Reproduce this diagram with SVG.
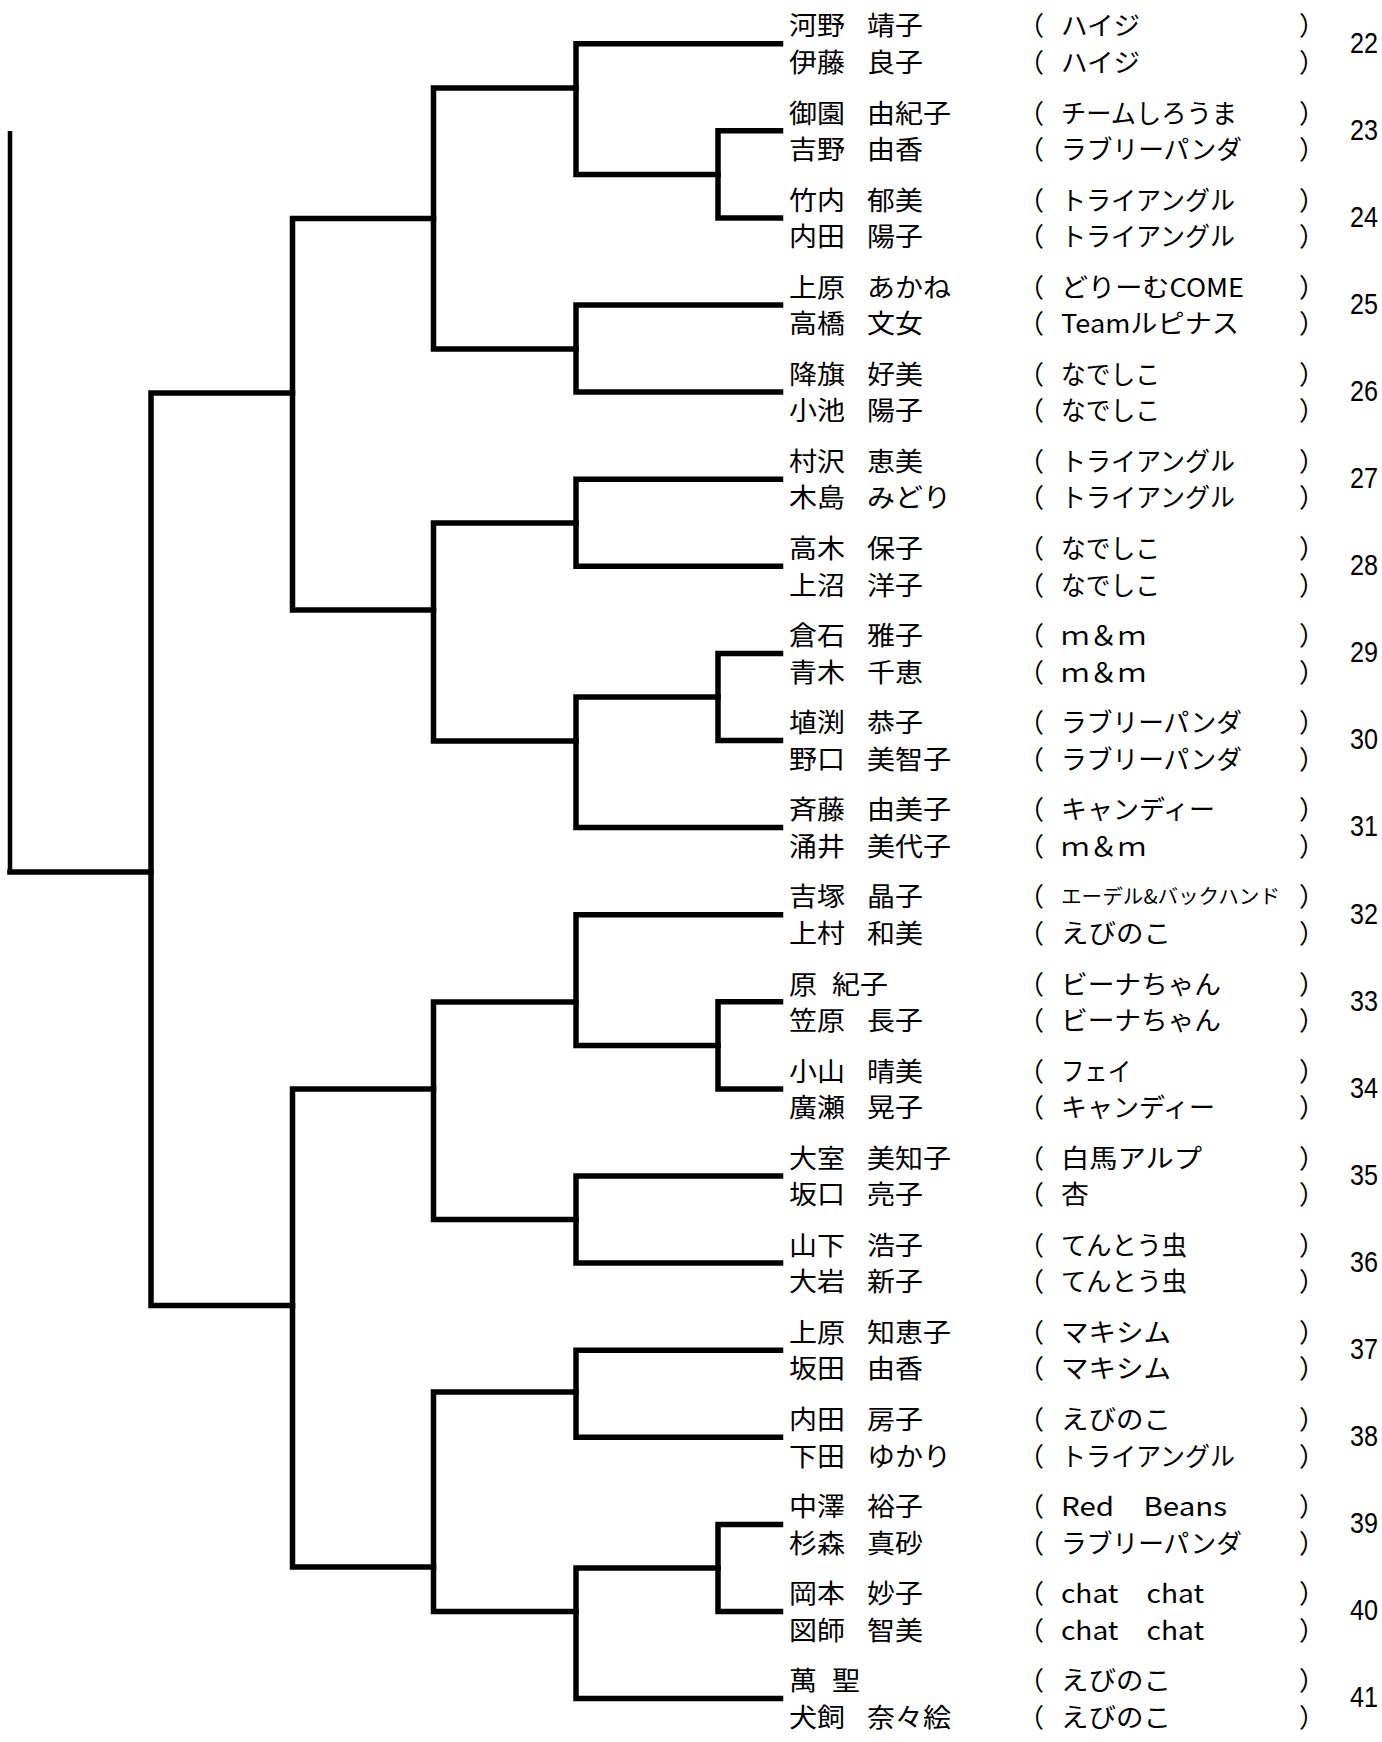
<svg xmlns="http://www.w3.org/2000/svg" width="1382" height="1742" viewBox="0 0 1382 1742">
<style>
text { font-family: "Noto Sans CJK JP", "Noto Sans", sans-serif; fill: #000; }
.n, .t, .p { font-size: 26px; }
.s { font-size: 20px; }
.num { font-family: "Liberation Sans", Arial, sans-serif; font-size: 30px; }
.ln { fill: none; stroke: #000; stroke-width: 5.5; stroke-linecap: square; stroke-linejoin: miter; }
</style>
<rect width="1382" height="1742" fill="#fff"/>
<g id="connectors">
<path d="M10 131 V874" fill="none" stroke="#000" stroke-width="4.5"/>
<path class="ln" d="M151 872 H10"/>
<path class="ln" d="M292.5 393 H151 V1305.5 H292.5"/>
<path class="ln" d="M433.5 218.5 H292.5 V610 H433.5"/>
<path class="ln" d="M433.5 1089 H292.5 V1567 H433.5"/>
<path class="ln" d="M576 88 H433.5 V349 H576"/>
<path class="ln" d="M576 523 H433.5 V741 H576"/>
<path class="ln" d="M576 1002 H433.5 V1219.5 H576"/>
<path class="ln" d="M576 1392 H433.5 V1611.5 H576"/>
<path class="ln" d="M780.5 43.7 H576 V174.4 H718"/>
<path class="ln" d="M780.5 305 H576 V392.1 H780.5"/>
<path class="ln" d="M780.5 479.2 H576 V566.3 H780.5"/>
<path class="ln" d="M718 697 H576 V827.6 H780.5"/>
<path class="ln" d="M780.5 914.7 H576 V1045.4 H718"/>
<path class="ln" d="M780.5 1176 H576 V1263.1 H780.5"/>
<path class="ln" d="M780.5 1350.2 H576 V1437.3 H780.5"/>
<path class="ln" d="M718 1568 H576 V1698.6 H780.5"/>
<path class="ln" d="M780.5 130.8 H718 V217.9 H780.5"/>
<path class="ln" d="M780.5 653.4 H718 V740.5 H780.5"/>
<path class="ln" d="M780.5 1001.8 H718 V1088.9 H780.5"/>
<path class="ln" d="M780.5 1524.4 H718 V1611.5 H780.5"/>
</g>

<g id="pair22">
<text class="n" x="789" y="35.4" textLength="56" lengthAdjust="spacingAndGlyphs">河野</text>
<text class="n" x="867" y="35.4" textLength="56" lengthAdjust="spacingAndGlyphs">靖子</text>
<text class="p" x="1018" y="35.4">（</text>
<text class="t" x="1061" y="35.4" textLength="79" lengthAdjust="spacingAndGlyphs">ハイジ</text>
<text class="p" x="1299" y="35.4">）</text>
<text class="n" x="789" y="71.9" textLength="56" lengthAdjust="spacingAndGlyphs">伊藤</text>
<text class="n" x="867" y="71.9" textLength="56" lengthAdjust="spacingAndGlyphs">良子</text>
<text class="p" x="1018" y="71.9">（</text>
<text class="t" x="1061" y="71.9" textLength="79" lengthAdjust="spacingAndGlyphs">ハイジ</text>
<text class="p" x="1299" y="71.9">）</text>
<text class="num" x="1350" y="52.5" textLength="28" lengthAdjust="spacingAndGlyphs">22</text>
</g>

<g id="pair23">
<text class="n" x="789" y="122.5" textLength="56" lengthAdjust="spacingAndGlyphs">御園</text>
<text class="n" x="867" y="122.5" textLength="84" lengthAdjust="spacingAndGlyphs">由紀子</text>
<text class="p" x="1018" y="122.5">（</text>
<text class="t" x="1061" y="122.5" textLength="176" lengthAdjust="spacingAndGlyphs">チームしろうま</text>
<text class="p" x="1299" y="122.5">）</text>
<text class="n" x="789" y="159" textLength="56" lengthAdjust="spacingAndGlyphs">吉野</text>
<text class="n" x="867" y="159" textLength="56" lengthAdjust="spacingAndGlyphs">由香</text>
<text class="p" x="1018" y="159">（</text>
<text class="t" x="1061" y="159" textLength="181" lengthAdjust="spacingAndGlyphs">ラブリーパンダ</text>
<text class="p" x="1299" y="159">）</text>
<text class="num" x="1350" y="139.6" textLength="28" lengthAdjust="spacingAndGlyphs">23</text>
</g>

<g id="pair24">
<text class="n" x="789" y="209.6" textLength="56" lengthAdjust="spacingAndGlyphs">竹内</text>
<text class="n" x="867" y="209.6" textLength="56" lengthAdjust="spacingAndGlyphs">郁美</text>
<text class="p" x="1018" y="209.6">（</text>
<text class="t" x="1061" y="209.6" textLength="174" lengthAdjust="spacingAndGlyphs">トライアングル</text>
<text class="p" x="1299" y="209.6">）</text>
<text class="n" x="789" y="246.1" textLength="56" lengthAdjust="spacingAndGlyphs">内田</text>
<text class="n" x="867" y="246.1" textLength="56" lengthAdjust="spacingAndGlyphs">陽子</text>
<text class="p" x="1018" y="246.1">（</text>
<text class="t" x="1061" y="246.1" textLength="174" lengthAdjust="spacingAndGlyphs">トライアングル</text>
<text class="p" x="1299" y="246.1">）</text>
<text class="num" x="1350" y="226.7" textLength="28" lengthAdjust="spacingAndGlyphs">24</text>
</g>

<g id="pair25">
<text class="n" x="789" y="296.7" textLength="56" lengthAdjust="spacingAndGlyphs">上原</text>
<text class="n" x="867" y="296.7" textLength="84" lengthAdjust="spacingAndGlyphs">あかね</text>
<text class="p" x="1018" y="296.7">（</text>
<text class="t" x="1061" y="296.7" textLength="183" lengthAdjust="spacingAndGlyphs">どりーむCOME</text>
<text class="p" x="1299" y="296.7">）</text>
<text class="n" x="789" y="333.2" textLength="56" lengthAdjust="spacingAndGlyphs">高橋</text>
<text class="n" x="867" y="333.2" textLength="56" lengthAdjust="spacingAndGlyphs">文女</text>
<text class="p" x="1018" y="333.2">（</text>
<text class="t" x="1061" y="333.2" textLength="178" lengthAdjust="spacingAndGlyphs">Teamルピナス</text>
<text class="p" x="1299" y="333.2">）</text>
<text class="num" x="1350" y="313.8" textLength="28" lengthAdjust="spacingAndGlyphs">25</text>
</g>

<g id="pair26">
<text class="n" x="789" y="383.8" textLength="56" lengthAdjust="spacingAndGlyphs">降旗</text>
<text class="n" x="867" y="383.8" textLength="56" lengthAdjust="spacingAndGlyphs">好美</text>
<text class="p" x="1018" y="383.8">（</text>
<text class="t" x="1061" y="383.8" textLength="99" lengthAdjust="spacingAndGlyphs">なでしこ</text>
<text class="p" x="1299" y="383.8">）</text>
<text class="n" x="789" y="420.3" textLength="56" lengthAdjust="spacingAndGlyphs">小池</text>
<text class="n" x="867" y="420.3" textLength="56" lengthAdjust="spacingAndGlyphs">陽子</text>
<text class="p" x="1018" y="420.3">（</text>
<text class="t" x="1061" y="420.3" textLength="99" lengthAdjust="spacingAndGlyphs">なでしこ</text>
<text class="p" x="1299" y="420.3">）</text>
<text class="num" x="1350" y="400.9" textLength="28" lengthAdjust="spacingAndGlyphs">26</text>
</g>

<g id="pair27">
<text class="n" x="789" y="470.9" textLength="56" lengthAdjust="spacingAndGlyphs">村沢</text>
<text class="n" x="867" y="470.9" textLength="56" lengthAdjust="spacingAndGlyphs">恵美</text>
<text class="p" x="1018" y="470.9">（</text>
<text class="t" x="1061" y="470.9" textLength="174" lengthAdjust="spacingAndGlyphs">トライアングル</text>
<text class="p" x="1299" y="470.9">）</text>
<text class="n" x="789" y="507.4" textLength="56" lengthAdjust="spacingAndGlyphs">木島</text>
<text class="n" x="867" y="507.4" textLength="84" lengthAdjust="spacingAndGlyphs">みどり</text>
<text class="p" x="1018" y="507.4">（</text>
<text class="t" x="1061" y="507.4" textLength="174" lengthAdjust="spacingAndGlyphs">トライアングル</text>
<text class="p" x="1299" y="507.4">）</text>
<text class="num" x="1350" y="488" textLength="28" lengthAdjust="spacingAndGlyphs">27</text>
</g>

<g id="pair28">
<text class="n" x="789" y="558" textLength="56" lengthAdjust="spacingAndGlyphs">高木</text>
<text class="n" x="867" y="558" textLength="56" lengthAdjust="spacingAndGlyphs">保子</text>
<text class="p" x="1018" y="558">（</text>
<text class="t" x="1061" y="558" textLength="99" lengthAdjust="spacingAndGlyphs">なでしこ</text>
<text class="p" x="1299" y="558">）</text>
<text class="n" x="789" y="594.5" textLength="56" lengthAdjust="spacingAndGlyphs">上沼</text>
<text class="n" x="867" y="594.5" textLength="56" lengthAdjust="spacingAndGlyphs">洋子</text>
<text class="p" x="1018" y="594.5">（</text>
<text class="t" x="1061" y="594.5" textLength="99" lengthAdjust="spacingAndGlyphs">なでしこ</text>
<text class="p" x="1299" y="594.5">）</text>
<text class="num" x="1350" y="575.1" textLength="28" lengthAdjust="spacingAndGlyphs">28</text>
</g>

<g id="pair29">
<text class="n" x="789" y="645.1" textLength="56" lengthAdjust="spacingAndGlyphs">倉石</text>
<text class="n" x="867" y="645.1" textLength="56" lengthAdjust="spacingAndGlyphs">雅子</text>
<text class="p" x="1018" y="645.1">（</text>
<text class="t" x="1061" y="645.1" textLength="85" lengthAdjust="spacingAndGlyphs">ｍ＆ｍ</text>
<text class="p" x="1299" y="645.1">）</text>
<text class="n" x="789" y="681.6" textLength="56" lengthAdjust="spacingAndGlyphs">青木</text>
<text class="n" x="867" y="681.6" textLength="56" lengthAdjust="spacingAndGlyphs">千恵</text>
<text class="p" x="1018" y="681.6">（</text>
<text class="t" x="1061" y="681.6" textLength="85" lengthAdjust="spacingAndGlyphs">ｍ＆ｍ</text>
<text class="p" x="1299" y="681.6">）</text>
<text class="num" x="1350" y="662.2" textLength="28" lengthAdjust="spacingAndGlyphs">29</text>
</g>

<g id="pair30">
<text class="n" x="789" y="732.2" textLength="56" lengthAdjust="spacingAndGlyphs">埴渕</text>
<text class="n" x="867" y="732.2" textLength="56" lengthAdjust="spacingAndGlyphs">恭子</text>
<text class="p" x="1018" y="732.2">（</text>
<text class="t" x="1061" y="732.2" textLength="181" lengthAdjust="spacingAndGlyphs">ラブリーパンダ</text>
<text class="p" x="1299" y="732.2">）</text>
<text class="n" x="789" y="768.7" textLength="56" lengthAdjust="spacingAndGlyphs">野口</text>
<text class="n" x="867" y="768.7" textLength="84" lengthAdjust="spacingAndGlyphs">美智子</text>
<text class="p" x="1018" y="768.7">（</text>
<text class="t" x="1061" y="768.7" textLength="181" lengthAdjust="spacingAndGlyphs">ラブリーパンダ</text>
<text class="p" x="1299" y="768.7">）</text>
<text class="num" x="1350" y="749.3" textLength="28" lengthAdjust="spacingAndGlyphs">30</text>
</g>

<g id="pair31">
<text class="n" x="789" y="819.3" textLength="56" lengthAdjust="spacingAndGlyphs">斉藤</text>
<text class="n" x="867" y="819.3" textLength="84" lengthAdjust="spacingAndGlyphs">由美子</text>
<text class="p" x="1018" y="819.3">（</text>
<text class="t" x="1061" y="819.3" textLength="154" lengthAdjust="spacingAndGlyphs">キャンディー</text>
<text class="p" x="1299" y="819.3">）</text>
<text class="n" x="789" y="855.8" textLength="56" lengthAdjust="spacingAndGlyphs">涌井</text>
<text class="n" x="867" y="855.8" textLength="84" lengthAdjust="spacingAndGlyphs">美代子</text>
<text class="p" x="1018" y="855.8">（</text>
<text class="t" x="1061" y="855.8" textLength="85" lengthAdjust="spacingAndGlyphs">ｍ＆ｍ</text>
<text class="p" x="1299" y="855.8">）</text>
<text class="num" x="1350" y="836.4" textLength="28" lengthAdjust="spacingAndGlyphs">31</text>
</g>

<g id="pair32">
<text class="n" x="789" y="906.4" textLength="56" lengthAdjust="spacingAndGlyphs">吉塚</text>
<text class="n" x="867" y="906.4" textLength="56" lengthAdjust="spacingAndGlyphs">晶子</text>
<text class="p" x="1018" y="906.4">（</text>
<text class="t s" x="1061" y="904" textLength="219" lengthAdjust="spacingAndGlyphs">エーデル&amp;バックハンド</text>
<text class="p" x="1299" y="906.4">）</text>
<text class="n" x="789" y="942.9" textLength="56" lengthAdjust="spacingAndGlyphs">上村</text>
<text class="n" x="867" y="942.9" textLength="56" lengthAdjust="spacingAndGlyphs">和美</text>
<text class="p" x="1018" y="942.9">（</text>
<text class="t" x="1061" y="942.9" textLength="110" lengthAdjust="spacingAndGlyphs">えびのこ</text>
<text class="p" x="1299" y="942.9">）</text>
<text class="num" x="1350" y="923.5" textLength="28" lengthAdjust="spacingAndGlyphs">32</text>
</g>

<g id="pair33">
<text class="n" x="789" y="993.5" textLength="28" lengthAdjust="spacingAndGlyphs">原</text>
<text class="n" x="832" y="993.5" textLength="56" lengthAdjust="spacingAndGlyphs">紀子</text>
<text class="p" x="1018" y="993.5">（</text>
<text class="t" x="1061" y="993.5" textLength="160" lengthAdjust="spacingAndGlyphs">ビーナちゃん</text>
<text class="p" x="1299" y="993.5">）</text>
<text class="n" x="789" y="1030" textLength="56" lengthAdjust="spacingAndGlyphs">笠原</text>
<text class="n" x="867" y="1030" textLength="56" lengthAdjust="spacingAndGlyphs">長子</text>
<text class="p" x="1018" y="1030">（</text>
<text class="t" x="1061" y="1030" textLength="160" lengthAdjust="spacingAndGlyphs">ビーナちゃん</text>
<text class="p" x="1299" y="1030">）</text>
<text class="num" x="1350" y="1010.6" textLength="28" lengthAdjust="spacingAndGlyphs">33</text>
</g>

<g id="pair34">
<text class="n" x="789" y="1080.6" textLength="56" lengthAdjust="spacingAndGlyphs">小山</text>
<text class="n" x="867" y="1080.6" textLength="56" lengthAdjust="spacingAndGlyphs">晴美</text>
<text class="p" x="1018" y="1080.6">（</text>
<text class="t" x="1061" y="1080.6" textLength="70" lengthAdjust="spacingAndGlyphs">フェイ</text>
<text class="p" x="1299" y="1080.6">）</text>
<text class="n" x="789" y="1117.1" textLength="56" lengthAdjust="spacingAndGlyphs">廣瀬</text>
<text class="n" x="867" y="1117.1" textLength="56" lengthAdjust="spacingAndGlyphs">晃子</text>
<text class="p" x="1018" y="1117.1">（</text>
<text class="t" x="1061" y="1117.1" textLength="154" lengthAdjust="spacingAndGlyphs">キャンディー</text>
<text class="p" x="1299" y="1117.1">）</text>
<text class="num" x="1350" y="1097.7" textLength="28" lengthAdjust="spacingAndGlyphs">34</text>
</g>

<g id="pair35">
<text class="n" x="789" y="1167.7" textLength="56" lengthAdjust="spacingAndGlyphs">大室</text>
<text class="n" x="867" y="1167.7" textLength="84" lengthAdjust="spacingAndGlyphs">美知子</text>
<text class="p" x="1018" y="1167.7">（</text>
<text class="t" x="1061" y="1167.7" textLength="141" lengthAdjust="spacingAndGlyphs">白馬アルプ</text>
<text class="p" x="1299" y="1167.7">）</text>
<text class="n" x="789" y="1204.2" textLength="56" lengthAdjust="spacingAndGlyphs">坂口</text>
<text class="n" x="867" y="1204.2" textLength="56" lengthAdjust="spacingAndGlyphs">亮子</text>
<text class="p" x="1018" y="1204.2">（</text>
<text class="t" x="1061" y="1204.2" textLength="28" lengthAdjust="spacingAndGlyphs">杏</text>
<text class="p" x="1299" y="1204.2">）</text>
<text class="num" x="1350" y="1184.8" textLength="28" lengthAdjust="spacingAndGlyphs">35</text>
</g>

<g id="pair36">
<text class="n" x="789" y="1254.8" textLength="56" lengthAdjust="spacingAndGlyphs">山下</text>
<text class="n" x="867" y="1254.8" textLength="56" lengthAdjust="spacingAndGlyphs">浩子</text>
<text class="p" x="1018" y="1254.8">（</text>
<text class="t" x="1061" y="1254.8" textLength="126" lengthAdjust="spacingAndGlyphs">てんとう虫</text>
<text class="p" x="1299" y="1254.8">）</text>
<text class="n" x="789" y="1291.3" textLength="56" lengthAdjust="spacingAndGlyphs">大岩</text>
<text class="n" x="867" y="1291.3" textLength="56" lengthAdjust="spacingAndGlyphs">新子</text>
<text class="p" x="1018" y="1291.3">（</text>
<text class="t" x="1061" y="1291.3" textLength="126" lengthAdjust="spacingAndGlyphs">てんとう虫</text>
<text class="p" x="1299" y="1291.3">）</text>
<text class="num" x="1350" y="1271.9" textLength="28" lengthAdjust="spacingAndGlyphs">36</text>
</g>

<g id="pair37">
<text class="n" x="789" y="1341.9" textLength="56" lengthAdjust="spacingAndGlyphs">上原</text>
<text class="n" x="867" y="1341.9" textLength="84" lengthAdjust="spacingAndGlyphs">知恵子</text>
<text class="p" x="1018" y="1341.9">（</text>
<text class="t" x="1061" y="1341.9" textLength="110" lengthAdjust="spacingAndGlyphs">マキシム</text>
<text class="p" x="1299" y="1341.9">）</text>
<text class="n" x="789" y="1378.4" textLength="56" lengthAdjust="spacingAndGlyphs">坂田</text>
<text class="n" x="867" y="1378.4" textLength="56" lengthAdjust="spacingAndGlyphs">由香</text>
<text class="p" x="1018" y="1378.4">（</text>
<text class="t" x="1061" y="1378.4" textLength="110" lengthAdjust="spacingAndGlyphs">マキシム</text>
<text class="p" x="1299" y="1378.4">）</text>
<text class="num" x="1350" y="1359" textLength="28" lengthAdjust="spacingAndGlyphs">37</text>
</g>

<g id="pair38">
<text class="n" x="789" y="1429" textLength="56" lengthAdjust="spacingAndGlyphs">内田</text>
<text class="n" x="867" y="1429" textLength="56" lengthAdjust="spacingAndGlyphs">房子</text>
<text class="p" x="1018" y="1429">（</text>
<text class="t" x="1061" y="1429" textLength="110" lengthAdjust="spacingAndGlyphs">えびのこ</text>
<text class="p" x="1299" y="1429">）</text>
<text class="n" x="789" y="1465.5" textLength="56" lengthAdjust="spacingAndGlyphs">下田</text>
<text class="n" x="867" y="1465.5" textLength="84" lengthAdjust="spacingAndGlyphs">ゆかり</text>
<text class="p" x="1018" y="1465.5">（</text>
<text class="t" x="1061" y="1465.5" textLength="174" lengthAdjust="spacingAndGlyphs">トライアングル</text>
<text class="p" x="1299" y="1465.5">）</text>
<text class="num" x="1350" y="1446.1" textLength="28" lengthAdjust="spacingAndGlyphs">38</text>
</g>

<g id="pair39">
<text class="n" x="789" y="1516.1" textLength="56" lengthAdjust="spacingAndGlyphs">中澤</text>
<text class="n" x="867" y="1516.1" textLength="56" lengthAdjust="spacingAndGlyphs">裕子</text>
<text class="p" x="1018" y="1516.1">（</text>
<text class="t" x="1061" y="1516.1" textLength="166" lengthAdjust="spacingAndGlyphs">Red　Beans</text>
<text class="p" x="1299" y="1516.1">）</text>
<text class="n" x="789" y="1552.6" textLength="56" lengthAdjust="spacingAndGlyphs">杉森</text>
<text class="n" x="867" y="1552.6" textLength="56" lengthAdjust="spacingAndGlyphs">真砂</text>
<text class="p" x="1018" y="1552.6">（</text>
<text class="t" x="1061" y="1552.6" textLength="181" lengthAdjust="spacingAndGlyphs">ラブリーパンダ</text>
<text class="p" x="1299" y="1552.6">）</text>
<text class="num" x="1350" y="1533.2" textLength="28" lengthAdjust="spacingAndGlyphs">39</text>
</g>

<g id="pair40">
<text class="n" x="789" y="1603.2" textLength="56" lengthAdjust="spacingAndGlyphs">岡本</text>
<text class="n" x="867" y="1603.2" textLength="56" lengthAdjust="spacingAndGlyphs">妙子</text>
<text class="p" x="1018" y="1603.2">（</text>
<text class="t" x="1061" y="1603.2" textLength="143" lengthAdjust="spacingAndGlyphs">chat　chat</text>
<text class="p" x="1299" y="1603.2">）</text>
<text class="n" x="789" y="1639.7" textLength="56" lengthAdjust="spacingAndGlyphs">図師</text>
<text class="n" x="867" y="1639.7" textLength="56" lengthAdjust="spacingAndGlyphs">智美</text>
<text class="p" x="1018" y="1639.7">（</text>
<text class="t" x="1061" y="1639.7" textLength="143" lengthAdjust="spacingAndGlyphs">chat　chat</text>
<text class="p" x="1299" y="1639.7">）</text>
<text class="num" x="1350" y="1620.3" textLength="28" lengthAdjust="spacingAndGlyphs">40</text>
</g>

<g id="pair41">
<text class="n" x="789" y="1690.3" textLength="28" lengthAdjust="spacingAndGlyphs">萬</text>
<text class="n" x="832" y="1690.3" textLength="28" lengthAdjust="spacingAndGlyphs">聖</text>
<text class="p" x="1018" y="1690.3">（</text>
<text class="t" x="1061" y="1690.3" textLength="110" lengthAdjust="spacingAndGlyphs">えびのこ</text>
<text class="p" x="1299" y="1690.3">）</text>
<text class="n" x="789" y="1726.8" textLength="56" lengthAdjust="spacingAndGlyphs">犬飼</text>
<text class="n" x="867" y="1726.8" textLength="84" lengthAdjust="spacingAndGlyphs">奈々絵</text>
<text class="p" x="1018" y="1726.8">（</text>
<text class="t" x="1061" y="1726.8" textLength="110" lengthAdjust="spacingAndGlyphs">えびのこ</text>
<text class="p" x="1299" y="1726.8">）</text>
<text class="num" x="1350" y="1707.4" textLength="28" lengthAdjust="spacingAndGlyphs">41</text>
</g>
</svg>
